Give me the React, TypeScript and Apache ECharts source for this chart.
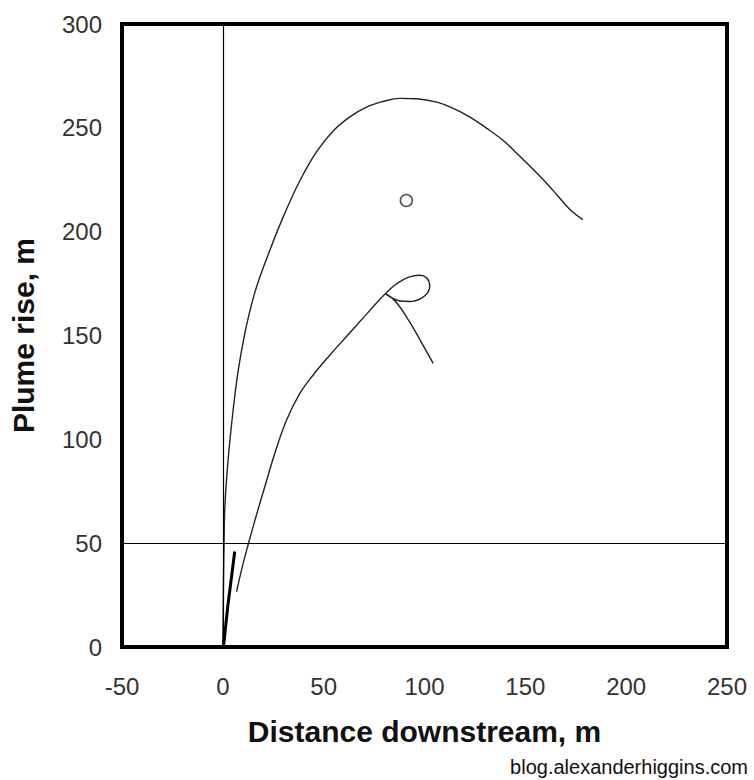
import React, { useEffect, useRef } from "react";
import * as echarts from "echarts";

const xTicks = { min: -50, max: 250, interval: 50 };
const yTicks = { min: 0, max: 300, interval: 50 };

const upperCurve: [number, number][] = [
  [0, 0], [0.3, 30], [0.6, 50], [1, 67.5], [2.6, 90], [5.1, 114], [7.6, 133],
  [10.9, 151], [14, 164], [16.9, 174], [23.3, 191], [29.9, 207], [38.2, 224.5],
  [46.5, 238.5], [54.7, 248.5], [63, 255.3], [71.2, 260], [79.5, 262.7],
  [87.8, 264.2], [96, 264], [106.1, 262.4], [114, 259.5], [122.5, 255.2],
  [130.5, 250], [138.8, 244.1], [147, 236.5], [155.7, 228.2], [163.6, 220],
  [172, 210.8], [178.5, 205.8],
];

const lowerCurve: [number, number][] = [
  [6.8, 26.6], [9.5, 38], [12.5, 49.1], [15.9, 61], [20.8, 77.2], [25.8, 93.3],
  [31.6, 109.3], [38.2, 122.1], [44.8, 131], [53, 140.5], [61.3, 149.5],
  [69.6, 158.5], [77.8, 167.3], [80.8, 170.3],
  [85.3, 174.3], [90, 177.2], [94, 178.6], [97.7, 179], [101, 177.8], [102.6, 174],
  [101.5, 170.5], [98.5, 168], [93, 166.4], [88, 166.6], [83.5, 168.3], [80.8, 170],
  [84, 168], [88, 163.5], [92, 157.5], [96, 151], [100, 144], [104.3, 136.6],
];

const shortSegment: [number, number][] = [
  [0.3, 0], [2.5, 20], [5.9, 46],
];

const markerPoint: [number, number][] = [[91, 215]];

const refLineX = 0;
const refLineY = 50;

export default function App() {
  const ref = useRef<HTMLDivElement>(null);
  useEffect(() => {
    if (!ref.current) return;
    const chart = echarts.init(ref.current, null, { renderer: "svg" });
    const font = "'Liberation Sans', Arial, sans-serif";
    chart.setOption({
      animation: false,
      backgroundColor: "#ffffff",
      grid: {
        left: 122,
        right: 27,
        top: 24,
        bottom: 133,
        containLabel: false,
        outerBoundsMode: "none",
        show: true,
        borderColor: "#000",
        borderWidth: 4,
        backgroundColor: "transparent",
      },
      xAxis: {
        type: "value",
        min: xTicks.min,
        max: xTicks.max,
        interval: xTicks.interval,
        name: "Distance downstream, m",
        nameLocation: "middle",
        nameGap: 69,
        nameTextStyle: { fontFamily: font, fontSize: 30, fontWeight: "bold", color: "#111" },
        axisLine: { show: false },
        axisTick: { show: false },
        splitLine: { show: false },
        axisLabel: { fontFamily: font, fontSize: 24, color: "#333", margin: 27 },
      },
      yAxis: {
        type: "value",
        min: yTicks.min,
        max: yTicks.max,
        interval: yTicks.interval,
        name: "Plume rise, m",
        nameLocation: "middle",
        nameGap: 84,
        nameTextStyle: { fontFamily: font, fontSize: 30, fontWeight: "bold", color: "#111" },
        axisLine: { show: false },
        axisTick: { show: false },
        splitLine: { show: false },
        axisLabel: { fontFamily: font, fontSize: 24, color: "#333", margin: 20 },
      },
      graphic: [
        {
          type: "text",
          right: 6,
          bottom: 3,
          style: {
            text: "blog.alexanderhiggins.com",
            fontFamily: font,
            fontSize: 20,
            fill: "#111",
          },
        },
      ],
      series: [
        {
          type: "line",
          data: upperCurve,
          showSymbol: false,
          smooth: 0.4,
          lineStyle: { color: "#222", width: 1.4 },
          markLine: {
            silent: true,
            symbol: "none",
            label: { show: false },
            lineStyle: { color: "#000", width: 1.2, type: "solid" },
            data: [{ xAxis: refLineX }, { yAxis: refLineY }],
          },
        },
        {
          type: "line",
          data: lowerCurve,
          showSymbol: false,
          smooth: 0.4,
          lineStyle: { color: "#222", width: 1.4 },
        },
        {
          type: "line",
          data: shortSegment,
          showSymbol: false,
          lineStyle: { color: "#000", width: 3 },
        },
        {
          type: "scatter",
          data: markerPoint,
          symbol: "circle",
          symbolSize: 12,
          itemStyle: { color: "#fff", borderColor: "#222", borderWidth: 1.5 },
        },
      ],
    });
    return () => chart.dispose();
  }, []);
  return <div ref={ref} style={{ width: 754, height: 780, position: "absolute", left: 0, top: 0 }} />;
}
